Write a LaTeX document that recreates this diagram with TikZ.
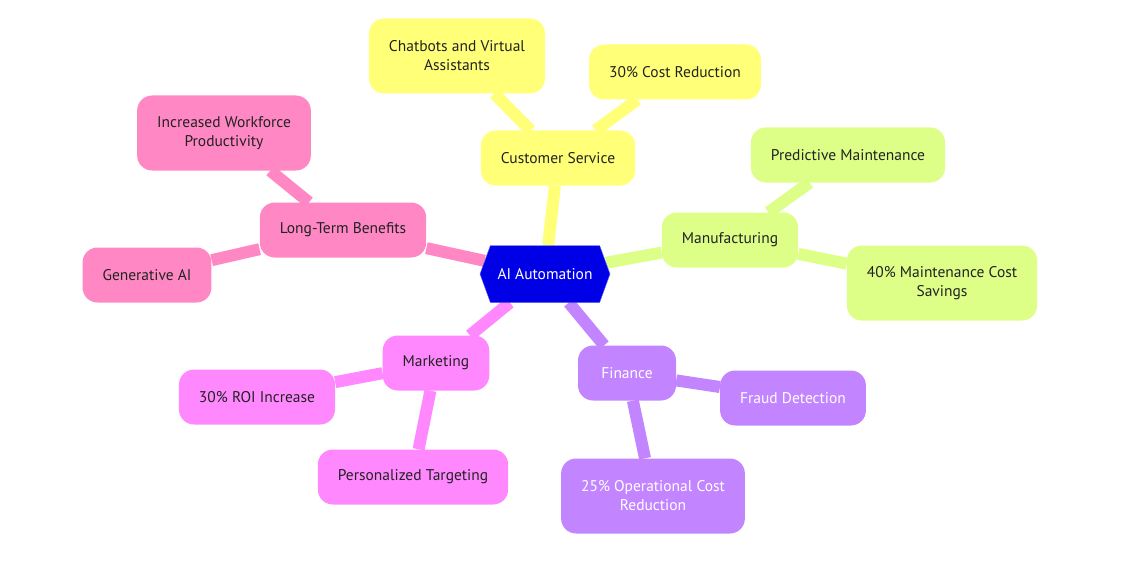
\documentclass[tikz,border=0pt]{standalone}
\usepackage{fontspec}
\setmainfont{PT Sans}
\usetikzlibrary{shapes.symbols,backgrounds}
\definecolor{hubblue}{HTML}{0000E6}
\definecolor{csyel}{HTML}{FFFF78}
\definecolor{mfgreen}{HTML}{DDFF88}
\definecolor{finpur}{HTML}{C285FF}
\definecolor{mkpink}{HTML}{FF88FF}
\definecolor{ltrose}{HTML}{FF88C4}
\definecolor{ink}{HTML}{222222}

\begin{document}
\begin{tikzpicture}[
  x=1pt,y=-1pt,
  font=\fontsize{15.5}{19}\selectfont,
  every node/.style={align=center},
  topic/.style={rectangle,rounded corners=15pt,inner xsep=20pt,minimum height=55pt,text=ink},
  hub/.style={signal,signal to=east and west,signal pointer angle=140,fill=hubblue,draw=blue!60,
    text=white,minimum width=130pt,minimum height=57pt,inner xsep=6pt},
  branch/.style={line width=12pt}
]
\useasboundingbox (0,0) rectangle (1148,583);

% centre
\node[hub] (ai) at (545,274) {AI Automation};

% customer service
\node[topic,fill=csyel] (cs) at (558,158) {Customer Service};
\node[topic,fill=csyel,minimum height=75pt] (chat) at (457,56) {Chatbots and Virtual\\Assistants};
\node[topic,fill=csyel] (cost) at (675,72) {30\% Cost Reduction};

% manufacturing
\node[topic,fill=mfgreen] (mfg) at (730,240) {Manufacturing};
\node[topic,fill=mfgreen] (pred) at (848,155) {Predictive Maintenance};
\node[topic,fill=mfgreen,minimum height=75pt] (maint) at (942,283) {40\% Maintenance Cost\\Savings};

% finance
\node[topic,fill=finpur,text=white,minimum width=98pt] (fin) at (627,373) {Finance};
\node[topic,fill=finpur,text=white] (fraud) at (793,398) {Fraud Detection};
\node[topic,fill=finpur,text=white,minimum height=75pt] (opcost) at (653,496) {25\% Operational Cost\\Reduction};

% marketing
\node[topic,fill=mkpink] (mkt) at (436,363) {Marketing};
\node[topic,fill=mkpink] (roi) at (257,397) {30\% ROI Increase};
\node[topic,fill=mkpink] (pers) at (413,477) {Personalized Targeting};

% long-term benefits
\node[topic,fill=ltrose] (ltb) at (343,230) {Long-Term Benefits};
\node[topic,fill=ltrose,minimum height=75pt] (work) at (224,133) {Increased Workforce\\Productivity};
\node[topic,fill=ltrose] (gen) at (147,275) {Generative AI};

\begin{scope}[on background layer]
\draw[branch,csyel] (ai) -- (cs);
\draw[branch,csyel] (cs) -- (chat);
\draw[branch,csyel] (cs) -- (cost);
\draw[branch,mfgreen] (ai) -- (mfg);
\draw[branch,mfgreen] (mfg) -- (pred);
\draw[branch,mfgreen] (mfg) -- (maint);
\draw[branch,finpur] (ai) -- (fin);
\draw[branch,finpur] (fin) -- (fraud);
\draw[branch,finpur] (fin) -- (opcost);
\draw[branch,mkpink] (ai) -- (mkt);
\draw[branch,mkpink] (mkt) -- (roi);
\draw[branch,mkpink] (mkt) -- (pers);
\draw[branch,ltrose] (ai) -- (ltb);
\draw[branch,ltrose] (ltb) -- (work);
\draw[branch,ltrose] (ltb) -- (gen);
\end{scope}
\end{tikzpicture}
\end{document}
